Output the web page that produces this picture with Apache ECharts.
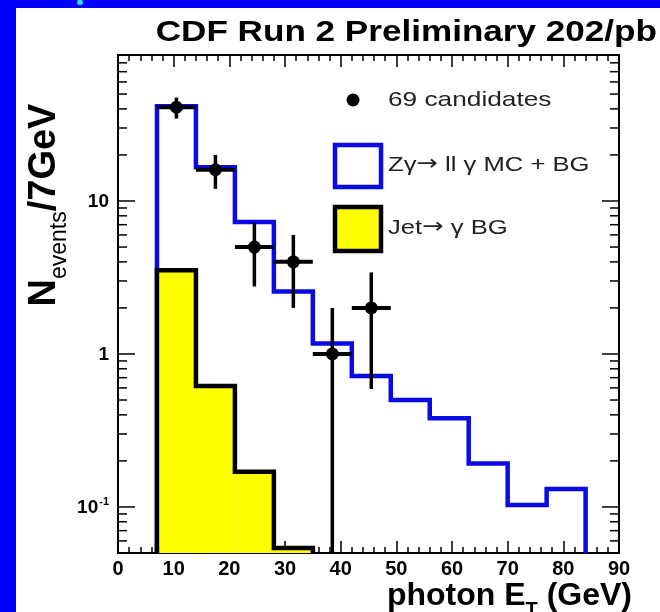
<!DOCTYPE html>
<html>
<head>
<meta charset="utf-8">
<script src="https://cdn.jsdelivr.net/npm/echarts@6/dist/echarts.min.js"></script>
<style>
  html, body { margin: 0; padding: 0; background: #0000fa; }
  #chart { width: 660px; height: 612px; }
</style>
</head>
<body>
<div id="chart"></div>
<script>
// Photon E_T histograms, 7 GeV bins
const binEdges = [7, 14, 21, 28, 35, 42, 49, 56, 63, 70, 77, 84];
const zgMcPlusBg = [41.6, 16.6, 7.28, 2.56, 1.17, 0.718, 0.50, 0.38, 0.192, 0.103, 0.131];
const jetBgEdges = [7, 14, 21, 28, 35];
const jetBg = [3.53, 0.617, 0.170, 0.054];

// Candidate events: bin centres, counts and Poisson errors
const dataEt = [10.5, 17.5, 24.5, 31.5, 38.5, 45.5];
const dataCounts = [41, 16, 5, 4, 1, 2];
const dataErrLow = [6.4, 4, 2.24, 2, 1, 1.41];
const dataErrHigh = [6.4, 4, 2.24, 2, 1, 1.41];
const dataHalfBin = 3.5;

// Axis ranges and ticks
const xMin = 0, xMax = 90, xStep = 10;
const yMin = 0.05, yMax = 90;
const yMajorTicks = [0.1, 1, 10];
const yMajorLabels = ['{b|10}{s|-1}', '{b|1}', '{b|10}'];
const yMinorTicks = [0.06, 0.07, 0.08, 0.09, 0.2, 0.3, 0.4, 0.5, 0.6, 0.7, 0.8, 0.9,
                     2, 3, 4, 5, 6, 7, 8, 9, 20, 30, 40, 50, 60, 70, 80, 90];

const BLUE = '#0a0ae8';
const FONT = '"Liberation Sans", Arial, Helvetica, sans-serif';
const SYMFONT = '"DejaVu Sans", sans-serif';

function stepOutline(edges, vals) {
  const pts = [[edges[0], yMin]];
  vals.forEach((v, i) => { pts.push([edges[i], v], [edges[i + 1], v]); });
  pts.push([edges[edges.length - 1], yMin]);
  return pts;
}

const chart = echarts.init(document.getElementById('chart'), null, { renderer: 'canvas' });

const xAxisBase = {
  type: 'value', min: xMin, max: xMax, interval: xStep,
  axisLine: { show: true, onZero: false, lineStyle: { color: '#000', width: 2 } },
  axisTick: { show: true, inside: true, length: 12, lineStyle: { color: '#000', width: 1.5 } },
  minorTick: { show: true, splitNumber: 5, length: 6, lineStyle: { color: '#000', width: 1.5 } },
  splitLine: { show: false }
};
const yAxisBase = {
  type: 'log', logBase: 10, min: yMin, max: yMax,
  axisLine: { show: true, onZero: false, lineStyle: { color: '#000', width: 2 } },
  axisTick: { show: false },
  splitLine: { show: false }
};

const legendText = { fontSize: 21, fontFamily: FONT, fill: '#222' };
const legendArrow = { fontSize: 21, fontFamily: SYMFONT, fill: '#222' };

const option = {
  backgroundColor: '#0000fa',
  animation: false,
  grid: { left: 118, right: 41, top: 55, bottom: 59 },
  xAxis: [
    Object.assign({}, xAxisBase, {
      position: 'bottom',
      axisLabel: { show: true, margin: 6, color: '#000', fontSize: 20, fontWeight: 'bold', fontFamily: FONT }
    }),
    Object.assign({}, xAxisBase, { position: 'top', axisLabel: { show: false } })
  ],
  yAxis: [
    Object.assign({}, yAxisBase, {
      position: 'left',
      axisLabel: {
        show: true, margin: 9, color: '#000', fontFamily: FONT,
        formatter: function (v) {
          for (let i = 0; i < yMajorTicks.length; i++) {
            if (Math.abs(Math.log10(v) - Math.log10(yMajorTicks[i])) < 1e-6) return yMajorLabels[i];
          }
          return '';
        },
        rich: {
          b: { fontSize: 19, fontWeight: 'bold', fontFamily: FONT, color: '#000', lineHeight: 20, verticalAlign: 'bottom' },
          s: { fontSize: 11, fontWeight: 'bold', fontFamily: FONT, color: '#000', lineHeight: 12, verticalAlign: 'top', padding: [0, 0, 14, 1] }
        }
      }
    }),
    Object.assign({}, yAxisBase, { position: 'right', axisLabel: { show: false } })
  ],
  graphic: [
    { type: 'rect', z: -10, shape: { x: 16, y: 8, width: 644, height: 604 }, style: { fill: '#ffffff' } },
    { type: 'rect', z: -9, shape: { x: 77, y: 0, width: 6, height: 5, r: 2 }, style: { fill: '#2ad8f0' } },
    {
      type: 'text', x: 657, y: 33, scaleX: 1.17,
      style: { text: 'CDF Run 2 Preliminary 202/pb', fill: '#000', font: 'bold 30px ' + FONT, textAlign: 'right', textVerticalAlign: 'middle' }
    },
    {
      type: 'text', x: 46, y: 205, rotation: Math.PI / 2,
      style: {
        text: '{n|N}{s|events}{n|/7GeV}', textAlign: 'center', textVerticalAlign: 'middle',
        rich: {
          n: { fontSize: 38, fontWeight: 'bold', fontFamily: FONT, fill: '#000', lineHeight: 40, verticalAlign: 'top' },
          s: { fontSize: 23, fontFamily: FONT, fill: '#000', lineHeight: 24, padding: [22, 0, 0, 0], verticalAlign: 'top' }
        }
      }
    },
    {
      type: 'text', x: 632, y: 597,
      style: {
        text: '{n|photon E}{s|T}{n| (GeV)}', textAlign: 'right', textVerticalAlign: 'middle',
        rich: {
          n: { fontSize: 32, fontWeight: 'bold', fontFamily: FONT, fill: '#000', lineHeight: 34, verticalAlign: 'top' },
          s: { fontSize: 20, fontWeight: 'bold', fontFamily: FONT, fill: '#000', lineHeight: 20, padding: [20, 0, 0, 0], verticalAlign: 'top' }
        }
      }
    },
    // legend
    { type: 'circle', shape: { cx: 353, cy: 100, r: 6.5 }, style: { fill: '#000' } },
    { type: 'text', x: 388, y: 100, scaleX: 1.25, style: { text: '69 candidates', fill: '#222', font: '21px ' + FONT, textAlign: 'left', textVerticalAlign: 'middle' } },
    { type: 'rect', shape: { x: 335, y: 145, width: 46, height: 42 }, style: { fill: '#fff', stroke: BLUE, lineWidth: 4.5 } },
    {
      type: 'text', x: 388, y: 165, scaleX: 1.22,
      style: { text: '{t|Zγ}{a|→}{t| ll γ MC + BG}', textAlign: 'left', textVerticalAlign: 'middle', rich: { t: legendText, a: legendArrow } }
    },
    { type: 'rect', shape: { x: 335, y: 207, width: 46, height: 44 }, style: { fill: '#ffff00', stroke: '#000', lineWidth: 4.5 } },
    {
      type: 'text', x: 388, y: 228, scaleX: 1.22,
      style: { text: '{t|Jet}{a|→}{t| γ BG}', textAlign: 'left', textVerticalAlign: 'middle', rich: { t: legendText, a: legendArrow } }
    }
  ],
  series: [
    {
      // blue MC + background outline
      type: 'line', xAxisIndex: 0, yAxisIndex: 0, z: 3,
      data: stepOutline(binEdges, zgMcPlusBg),
      showSymbol: false, symbol: 'none', clip: true,
      lineStyle: { color: BLUE, width: 4.5, join: 'miter', cap: 'butt' }
    },
    {
      // yellow jet background fill
      type: 'custom', xAxisIndex: 0, yAxisIndex: 0, z: 4,
      data: jetBg.map((v, i) => [jetBgEdges[i], jetBgEdges[i + 1], v]),
      encode: { x: [0, 1], y: 2 },
      renderItem: function (params, api) {
        const a = api.coord([api.value(0), api.value(2)]);
        const b = api.coord([api.value(1), yMin]);
        return { type: 'rect', shape: { x: a[0], y: a[1], width: b[0] - a[0], height: b[1] - a[1] }, style: { fill: '#ffff00' } };
      }
    },
    {
      // jet background outline
      type: 'line', xAxisIndex: 0, yAxisIndex: 0, z: 5,
      data: stepOutline(jetBgEdges, jetBg),
      showSymbol: false, symbol: 'none',
      lineStyle: { color: '#000', width: 4.5, join: 'miter', cap: 'butt' }
    },
    {
      // axis ticks on the log scale (left and right)
      type: 'custom', xAxisIndex: 0, yAxisIndex: 0, z: 6, silent: true,
      data: yMajorTicks.map(v => [xMin, v, 1]).concat(yMinorTicks.map(v => [xMin, v, 0])),
      encode: { x: 0, y: 1 },
      renderItem: function (params, api) {
        const v = api.value(1);
        const len = api.value(2) ? 17 : 9;
        const p = api.coord([xMin, v]);
        const q = api.coord([xMax, v]);
        return {
          type: 'group', children: [
            { type: 'line', shape: { x1: p[0], y1: p[1], x2: p[0] + len, y2: p[1] }, style: { stroke: '#000', lineWidth: 1.5 } },
            { type: 'line', shape: { x1: q[0], y1: q[1], x2: q[0] - len, y2: q[1] }, style: { stroke: '#000', lineWidth: 1.5 } }
          ]
        };
      }
    },
    {
      // candidate events with error bars
      type: 'custom', xAxisIndex: 0, yAxisIndex: 0, z: 10,
      data: dataCounts.map((n, i) => [dataEt[i], n, dataErrLow[i], dataErrHigh[i]]),
      encode: { x: 0, y: 1 },
      renderItem: function (params, api) {
        const x = api.value(0), y = api.value(1);
        const lo = Math.max(y - api.value(2), yMin);
        const hi = y + api.value(3);
        const c = api.coord([x, y]);
        const top = api.coord([x, hi]);
        const bot = api.coord([x, lo]);
        const l = api.coord([x - dataHalfBin, y]);
        const r = api.coord([x + dataHalfBin, y]);
        return {
          type: 'group', children: [
            { type: 'line', shape: { x1: c[0], y1: top[1], x2: c[0], y2: bot[1] }, style: { stroke: '#000', lineWidth: 3.5 } },
            { type: 'line', shape: { x1: l[0], y1: c[1], x2: r[0], y2: c[1] }, style: { stroke: '#000', lineWidth: 4 } },
            { type: 'circle', shape: { cx: c[0], cy: c[1], r: 6.5 }, style: { fill: '#000' } }
          ]
        };
      }
    }
  ]
};

chart.setOption(option);
</script>
</body>
</html>
